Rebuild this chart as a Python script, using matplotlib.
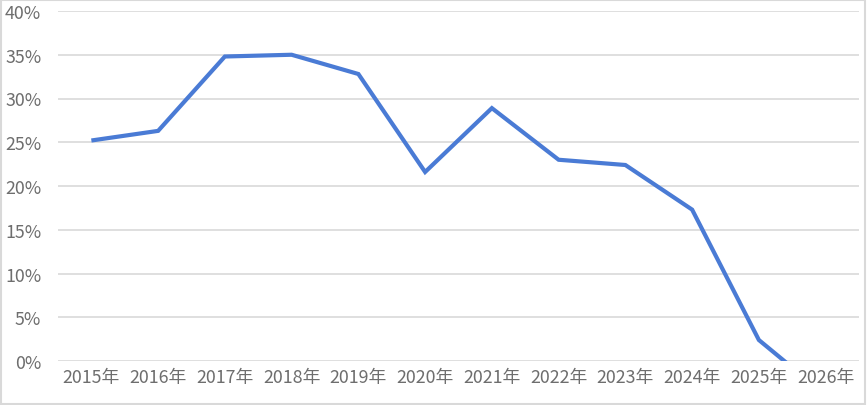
import matplotlib
matplotlib.use("Agg")
import matplotlib.pyplot as plt
from matplotlib.ticker import FuncFormatter
from matplotlib.patches import Rectangle

years = ["2015年", "2016年", "2017年", "2018年", "2019年", "2020年",
         "2021年", "2022年", "2023年", "2024年", "2025年", "2026年"]
values = [25.2, 26.3, 34.8, 35.0, 32.8, 21.6, 28.9, 23.0, 22.4, 17.3, 2.4, -3.9]
yticks = [0, 5, 10, 15, 20, 25, 30, 35, 40]

plt.rcParams['font.family'] = ['Noto Sans CJK SC', 'DejaVu Sans']

fig = plt.figure(figsize=(8.67, 4.06), dpi=100)
ax = fig.add_axes([58/867, 1 - 362/406, (859-58)/867, 350/406])

x = list(range(len(years)))
ax.plot(x, values, color='#4a7bd5', lw=3.0, solid_joinstyle='miter', solid_capstyle='butt',
        clip_on=True, zorder=3)
ax.set_xlim(-0.5, len(years) - 0.5)
ax.set_ylim(0, 40)
ax.set_yticks(yticks)
ax.yaxis.set_major_formatter(FuncFormatter(lambda v, p: f"{int(v)}%"))
ax.set_xticks(x)
ax.set_xticklabels(years)
ax.grid(axis='y', color='#d9d9d9', lw=1.2)
ax.set_axisbelow(True)
for s in ax.spines.values():
    s.set_visible(False)
ax.tick_params(length=0, labelsize=12.8, colors='#6e6e6e')
ax.tick_params(axis='y', pad=12)
ax.tick_params(axis='x', pad=5)

fig.patches.append(Rectangle((0.001, 0.002), 0.997, 0.995, transform=fig.transFigure,
                             fill=False, edgecolor='#d9d9d9', lw=1.5))
fig.savefig("out.png", dpi=100)
